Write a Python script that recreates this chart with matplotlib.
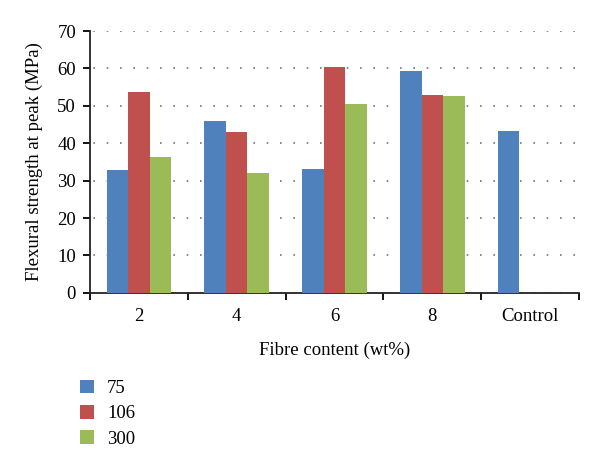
import numpy as np
import matplotlib.pyplot as plt

categories = ['2', '4', '6', '8', 'Control']
series_names = ['75', '106', '300']
vals_75 = [32.9, 46.0, 33.2, 59.2, 43.3]
vals_106 = [53.7, 43.1, 60.5, 53.0, np.nan]
vals_300 = [36.4, 32.1, 50.4, 52.6, np.nan]
colors = ['#4f81bd', '#c0504d', '#9bbb59']

plt.rcParams['font.family'] = ['Liberation Serif', 'DejaVu Serif']
fs = 13.5

fig = plt.figure(figsize=(6, 4.7), dpi=100)
ax = fig.add_axes([0.15, 0.377, 0.815, 0.557])

x = np.arange(len(categories))
w = 0.22
for i, (vals, c, name) in enumerate(zip([vals_75, vals_106, vals_300], colors, series_names)):
    ax.bar(x + (i - 1) * w, vals, width=w, color=c, label=name, zorder=3)

ax.set_xlim(-0.5, len(categories) - 0.5)
ax.set_ylim(0, 70)
ax.set_yticks(range(0, 71, 10))
ax.yaxis.grid(True, linestyle=(6, (1, 7)), color='#777777', linewidth=1.2, zorder=0)

# category labels centred, tick marks at group boundaries
ax.set_xticks(x)
ax.set_xticklabels(categories, fontsize=fs)
ax.tick_params(axis='x', which='major', length=0, pad=11)
ax.set_xticks(np.arange(-0.5, len(categories)), minor=True)
ax.tick_params(axis='x', which='minor', length=5, width=1.3, direction='out')
ax.tick_params(axis='y', labelsize=fs, length=5, width=1.3, direction='out', pad=5)

for s in ['top', 'right']:
    ax.spines[s].set_visible(False)
for s in ['left', 'bottom']:
    ax.spines[s].set_linewidth(1.3)
    ax.spines[s].set_color('#222222')

ax.set_ylabel('Flexural strength at peak (MPa)', fontsize=fs, labelpad=10)
ax.set_xlabel('Fibre content (wt%)', fontsize=fs, labelpad=12)

fig.legend(loc='upper left', bbox_to_anchor=(0.105, 0.228), frameon=False,
           fontsize=fs, handlelength=0.75, handleheight=0.75,
           labelspacing=0.42, handletextpad=0.7)

fig.savefig('out.png', dpi=100)
